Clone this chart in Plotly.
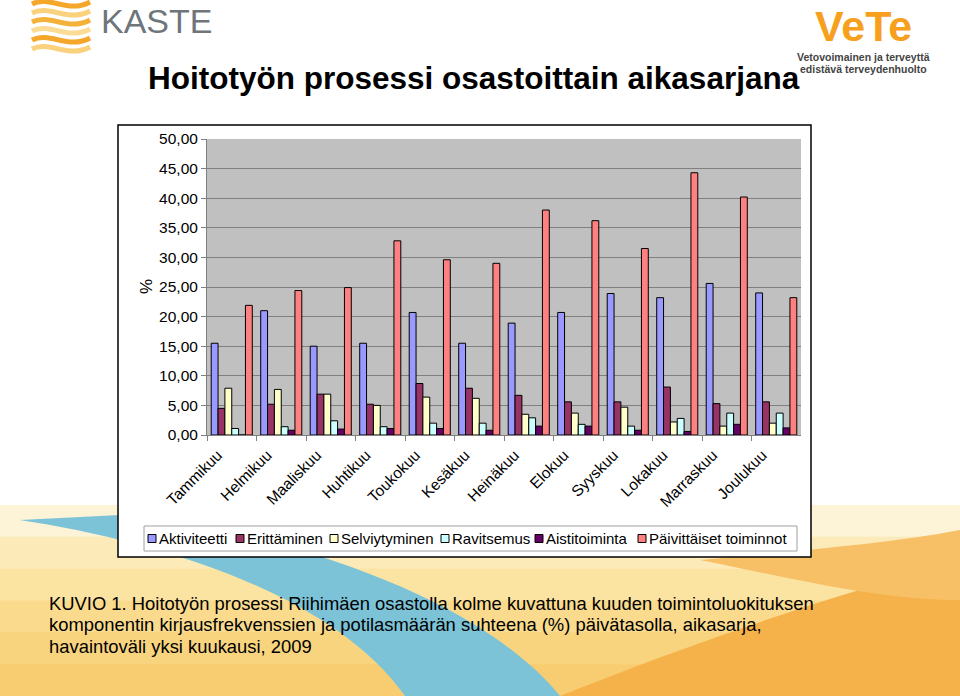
import plotly.graph_objects as go

# ---------------- data ----------------
months = ["Tammikuu", "Helmikuu", "Maaliskuu", "Huhtikuu", "Toukokuu", "Kesäkuu",
          "Heinäkuu", "Elokuu", "Syyskuu", "Lokakuu", "Marraskuu", "Joulukuu"]
aktiviteetti = [15.5, 21.0, 15.0, 15.5, 20.7, 15.5, 18.9, 20.7, 23.9, 23.2, 25.6, 24.0]
erittaminen = [4.5, 5.2, 6.9, 5.2, 8.7, 7.9, 6.7, 5.6, 5.6, 8.1, 5.3, 5.6]
selviytyminen = [7.9, 7.7, 6.9, 5.0, 6.4, 6.2, 3.5, 3.7, 4.7, 2.2, 1.5, 2.0]
ravitsemus = [1.1, 1.4, 2.4, 1.4, 2.0, 2.0, 2.9, 1.8, 1.5, 2.8, 3.7, 3.7]
aistitoiminta = [0.0, 0.8, 1.0, 1.1, 1.1, 0.8, 1.5, 1.5, 0.8, 0.6, 1.8, 1.2]
paivittaiset = [21.9, 24.4, 24.9, 32.8, 29.6, 29.0, 38.0, 36.2, 31.5, 44.3, 40.2, 23.2]

series_names = ["Aktiviteetti", "Erittäminen", "Selviytyminen", "Ravitsemus",
                "Aistitoiminta", "Päivittäiset toiminnot"]
series_values = [aktiviteetti, erittaminen, selviytyminen, ravitsemus,
                 aistitoiminta, paivittaiset]
series_colors = ["#9999FF", "#993366", "#FFFFCC", "#CCFFFF", "#660066", "#FF8080"]

y_ticks = [0, 5, 10, 15, 20, 25, 30, 35, 40, 45, 50]
y_ticktext = [f"{v:.2f}".replace(".", ",") for v in y_ticks]

title_text = "Hoitotyön prosessi osastoittain aikasarjana"
caption_lines = [
    "KUVIO 1. Hoitotyön prosessi Riihimäen osastolla kolme kuvattuna kuuden toimintoluokituksen",
    "komponentin kirjausfrekvenssien ja potilasmäärän suhteena (%) päivätasolla, aikasarja,",
    "havaintoväli yksi kuukausi, 2009",
]

W, H = 960, 696
FONT = "Liberation Sans, Arial, sans-serif"


def px(x):
    return x / W


def py(y):
    return 1 - y / H


fig = go.Figure()
for name, vals, col in zip(series_names, series_values, series_colors):
    fig.add_trace(go.Bar(x=months, y=vals, name=name,
                         marker=dict(color=col, line=dict(color="black", width=1))))

shapes = []
# slide background band (yellow / orange with blue swoosh)
strips = ["#FDF3D6", "#FCEAB8", "#FBE3A2", "#FADB8E", "#F9D47E", "#F8CD72"]
y0 = 505
step = (H - y0) / len(strips)
for i, c in enumerate(strips):
    shapes.append(dict(type="rect", xref="paper", yref="paper", layer="below",
                       x0=0, x1=1, y0=py(y0 + step * (i + 1) + 1), y1=py(y0 + step * i),
                       fillcolor=c, line=dict(width=0)))

# orange on the right
shapes.append(dict(type="path", xref="paper", yref="paper", layer="below",
                   path=f"M {px(560)},{py(696)} C {px(700)},{py(640)} {px(820)},{py(600)} {px(960)},{py(560)} L {px(960)},{py(696)} Z",
                   fillcolor="#F6B24A", line=dict(width=0)))
shapes.append(dict(type="path", xref="paper", yref="paper", layer="below",
                   path=f"M {px(700)},{py(560)} C {px(800)},{py(580)} {px(880)},{py(600)} {px(960)},{py(600)} L {px(960)},{py(530)} C {px(880)},{py(545)} {px(800)},{py(550)} {px(700)},{py(560)} Z",
                   fillcolor="#F7C066", line=dict(width=0)))
# blue swoosh
shapes.append(dict(type="path", xref="paper", yref="paper", layer="below",
                   path=(f"M {px(20)},{py(520)} C {px(150)},{py(540)} {px(330)},{py(590)} {px(405)},{py(696)} "
                         f"L {px(560)},{py(696)} C {px(500)},{py(620)} {px(340)},{py(540)} {px(120)},{py(515)} Z"),
                   fillcolor="#7CC3D8", line=dict(width=0)))
# chart box
shapes.append(dict(type="rect", xref="paper", yref="paper", layer="below",
                   x0=px(118), x1=px(811), y0=py(557), y1=py(125),
                   fillcolor="white", line=dict(color="black", width=1.5)))
# plot area
shapes.append(dict(type="rect", xref="paper", yref="paper", layer="below",
                   x0=px(207), x1=px(801), y0=py(435), y1=py(139),
                   fillcolor="#C0C0C0", line=dict(width=0)))
# legend box
shapes.append(dict(type="rect", xref="paper", yref="paper", layer="below",
                   x0=px(144), x1=px(797), y0=py(551), y1=py(526),
                   fillcolor="white", line=dict(color="#A0A0A0", width=1)))

annotations = []
# legend entries
leg_x = [148, 236, 330, 441, 535, 638]
for name, col, lx in zip(series_names, series_colors, leg_x):
    shapes.append(dict(type="rect", xref="paper", yref="paper",
                       x0=px(lx), x1=px(lx + 8), y0=py(542.5), y1=py(534.5),
                       fillcolor=col, line=dict(color="black", width=1)))
    annotations.append(dict(text=name, x=px(lx + 9), y=py(538.5), xref="paper", yref="paper",
                            xanchor="left", yanchor="middle", showarrow=False,
                            font=dict(family=FONT, size=15, color="black")))

# KASTE logo waves
wave_cols = ["#F4A72A", "#FAD27E", "#F5B23A", "#FBDC95", "#F4A72A", "#FAD27E"]
for i, c in enumerate(wave_cols):
    b = 4 + 9 * i
    shapes.append(dict(type="path", xref="paper", yref="paper",
                       path=f"M {px(32)},{py(b)} C {px(50)},{py(b - 9)} {px(68)},{py(b + 10)} {px(90)},{py(b - 2)}",
                       line=dict(color=c, width=5)))

annotations += [
    dict(text="KASTE", x=px(99), y=py(0), xref="paper", yref="paper", xanchor="left",
         yanchor="top", showarrow=False, font=dict(family=FONT, size=34, color="#6E767C")),
    dict(text="<b>VeTe</b>", x=px(863), y=py(0), xref="paper", yref="paper", xanchor="center",
         yanchor="top", showarrow=False, font=dict(family=FONT, size=43, color="#F7A01E")),
    dict(text="<b>Vetovoimainen ja terveyttä</b>", x=px(863), y=py(57), xref="paper", yref="paper",
         xanchor="center", yanchor="middle", showarrow=False,
         font=dict(family=FONT, size=10.5, color="#444444")),
    dict(text="<b>edistävä terveydenhuolto</b>", x=px(863), y=py(69.5), xref="paper", yref="paper",
         xanchor="center", yanchor="middle", showarrow=False,
         font=dict(family=FONT, size=10.5, color="#444444")),
    dict(text=f"<b>{title_text}</b>", x=px(146), y=py(78), xref="paper", yref="paper",
         xanchor="left", yanchor="middle", showarrow=False,
         font=dict(family=FONT, size=31.5, color="black")),
    dict(text="%", x=px(146), y=py(287), xref="paper", yref="paper", textangle=-90,
         xanchor="center", yanchor="middle", showarrow=False,
         font=dict(family=FONT, size=17, color="black")),
]
for i, line in enumerate(caption_lines):
    annotations.append(dict(text=line, x=px(47), y=py(603 + 21.5 * i), xref="paper", yref="paper",
                            xanchor="left", yanchor="middle", showarrow=False,
                            font=dict(family=FONT, size=18.4, color="black")))

fig.update_layout(
    width=W, height=H, margin=dict(l=0, r=0, t=0, b=0, autoexpand=False),
    paper_bgcolor="white", plot_bgcolor="rgba(0,0,0,0)",
    barmode="group", bargap=0.17, bargroupgap=0, showlegend=False,
    font=dict(family=FONT, size=14, color="black"),
    shapes=shapes, annotations=annotations,
)
fig.update_xaxes(domain=[px(207), px(801)], type="category", tickangle=-45,
                 ticks="outside", tickson="boundaries", ticklen=5, tickcolor="#808080",
                 showline=True, linecolor="#808080", linewidth=1, showgrid=False,
                 ticklabelshift=-14, ticklabelstandoff=4, automargin=False,
                 tickfont=dict(family=FONT, size=15.5, color="black"), fixedrange=True)
fig.update_yaxes(domain=[py(435), py(139)], range=[0, 50], tickvals=y_ticks, ticktext=y_ticktext,
                 ticks="outside", ticklen=5, tickcolor="#808080", showline=True,
                 linecolor="#808080", linewidth=1, gridcolor="#808080", gridwidth=1,
                 zeroline=False, automargin=False,
                 tickfont=dict(family=FONT, size=15.5, color="black"),
                 fixedrange=True)

fig.write_html("out.html")
